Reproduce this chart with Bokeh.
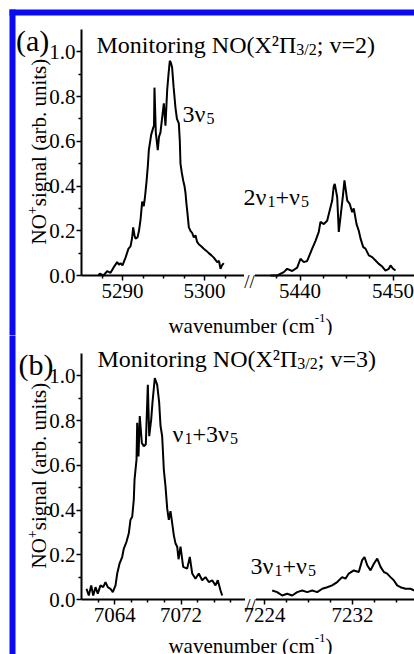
from bokeh.plotting import figure
from bokeh.models import (Range1d, FixedTicker, CustomJSTickFormatter, PrintfTickFormatter, Label,
                          BoxAnnotation)
from bokeh.layouts import column
from bokeh.embed import file_html
from bokeh.resources import INLINE

# ---------------- data ----------------
A_LEFT_X = [5287.07, 5287.23, 5287.68, 5288.13, 5288.54, 5288.90, 5289.35, 5289.57, 5289.76, 5290.00,
            5290.37, 5290.73, 5290.98, 5291.18, 5291.30, 5291.46, 5291.59, 5291.83, 5292.01, 5292.20,
            5292.40, 5292.60, 5292.74, 5292.93, 5293.09, 5293.21, 5293.50, 5293.74, 5293.84, 5293.90,
            5294.06, 5294.30, 5294.45, 5294.63, 5294.82, 5295.04, 5295.12, 5295.24, 5295.37, 5295.45,
            5295.61, 5295.77, 5295.91, 5296.05, 5296.24, 5296.46, 5296.64, 5296.87, 5296.99, 5297.07,
            5297.23, 5297.40, 5297.56, 5297.68, 5297.80, 5297.89, 5298.09, 5298.29, 5298.50, 5298.70,
            5298.90, 5299.10, 5299.30, 5299.63, 5299.91, 5300.24, 5300.52, 5300.85, 5301.13, 5301.34,
            5301.55, 5301.77, 5301.95, 5302.13, 5302.35]
A_LEFT_Y = [0.000, 0.008, 0.000, 0.020, 0.012, 0.035, 0.060, 0.048, 0.055, 0.045,
            0.080, 0.120, 0.130, 0.170, 0.215, 0.180, 0.165, 0.170, 0.200, 0.250,
            0.330, 0.310, 0.350, 0.420, 0.490, 0.560, 0.630, 0.660, 0.670, 0.840,
            0.640, 0.560, 0.620, 0.640, 0.700, 0.770, 0.730, 0.670, 0.770, 0.830,
            0.900, 0.960, 0.950, 0.930, 0.840, 0.750, 0.700, 0.680, 0.600, 0.500,
            0.460, 0.425, 0.400, 0.370, 0.320, 0.290, 0.215, 0.200, 0.190, 0.170,
            0.180, 0.150, 0.140, 0.130, 0.120, 0.110, 0.100, 0.090, 0.080, 0.070,
            0.060, 0.065, 0.030, 0.045, 0.055]

A_RIGHT_X = [5436.83, 5437.55, 5438.26, 5438.62, 5439.16, 5439.70, 5440.05, 5440.41, 5440.77, 5441.31,
             5441.67, 5442.02, 5442.20, 5442.56, 5442.92, 5443.10, 5443.46, 5443.63, 5443.74, 5444.00,
             5444.17, 5444.35, 5444.60, 5444.78, 5445.08, 5445.35, 5445.61, 5445.78, 5446.08, 5446.32,
             5446.51, 5446.80, 5447.04, 5447.40, 5447.76, 5448.12, 5448.47, 5448.84, 5449.19, 5449.55,
             5449.73, 5450.02, 5450.27]
A_RIGHT_Y = [0.000, 0.000, 0.015, 0.030, 0.020, 0.035, 0.075, 0.060, 0.065, 0.120,
             0.155, 0.195, 0.240, 0.230, 0.245, 0.275, 0.335, 0.400, 0.410, 0.350,
             0.195, 0.260, 0.350, 0.425, 0.335, 0.320, 0.283, 0.300, 0.230, 0.200,
             0.165, 0.127, 0.120, 0.090, 0.082, 0.067, 0.052, 0.040, 0.022, 0.030,
             0.045, 0.030, 0.022]

B_LEFT_X = [7060.60, 7060.88, 7061.17, 7061.41, 7061.69, 7061.96, 7062.29, 7062.61, 7062.89, 7063.17,
            7063.49, 7063.77, 7064.10, 7064.30, 7064.58, 7064.90, 7065.10, 7065.42, 7065.70, 7065.90,
            7066.11, 7066.30, 7066.39, 7066.63, 7066.71, 7066.87, 7067.02, 7067.27, 7067.51, 7067.75,
            7067.99, 7068.16, 7068.40, 7068.55, 7068.83, 7069.12, 7069.36, 7069.52, 7069.72, 7069.92,
            7070.12, 7070.33, 7070.52, 7070.72, 7070.93, 7071.12, 7071.33, 7071.53, 7071.69, 7071.93,
            7072.25, 7072.73, 7073.05, 7073.34, 7073.73, 7074.13, 7074.54, 7074.94, 7075.34, 7075.75,
            7076.14, 7076.42, 7076.75, 7076.95]
B_LEFT_Y = [0.048, 0.018, 0.063, 0.018, 0.055, 0.026, 0.063, 0.055, 0.078, 0.055,
            0.048, 0.033, 0.063, 0.116, 0.160, 0.190, 0.228, 0.258, 0.296, 0.356,
            0.370, 0.446, 0.536, 0.626, 0.790, 0.640, 0.820, 0.700, 0.685, 0.694,
            0.960, 0.730, 0.806, 0.880, 0.990, 0.960, 0.880, 0.776, 0.730, 0.580,
            0.506, 0.405, 0.356, 0.395, 0.340, 0.288, 0.250, 0.236, 0.180, 0.236,
            0.146, 0.138, 0.190, 0.116, 0.093, 0.116, 0.086, 0.100, 0.078, 0.086,
            0.063, 0.086, 0.040, 0.018]

B_RIGHT_X = [7224.70, 7225.15, 7225.61, 7226.06, 7226.52, 7226.97, 7227.43, 7227.88, 7228.34, 7228.79,
             7229.25, 7229.70, 7230.15, 7230.61, 7231.06, 7231.36, 7231.66, 7232.12, 7232.57, 7232.88,
             7233.09, 7233.34, 7233.64, 7233.94, 7234.25, 7234.55, 7234.85, 7235.15, 7235.45, 7235.75,
             7236.06, 7236.36, 7236.82, 7237.27, 7237.64]
B_RIGHT_Y = [0.040, 0.033, 0.018, 0.026, 0.018, 0.033, 0.040, 0.033, 0.040, 0.033,
             0.048, 0.055, 0.063, 0.078, 0.100, 0.093, 0.116, 0.130, 0.123, 0.176,
             0.190, 0.153, 0.130, 0.160, 0.183, 0.146, 0.123, 0.116, 0.100, 0.086,
             0.063, 0.055, 0.048, 0.048, 0.040]

A_LEFT_TICKS = [5290, 5300]
A_LEFT_MINOR = [5287.5, 5292.5, 5295, 5297.5, 5302.5]
A_RIGHT_TICKS = [5440, 5450]
A_RIGHT_MINOR = [5437.5, 5442.5, 5445, 5447.5]
B_LEFT_TICKS = [7064, 7072]
B_LEFT_MINOR = [7062, 7066, 7068, 7070, 7074, 7076, 7078]
B_RIGHT_TICKS = [7224, 7232]
B_RIGHT_MINOR = [7226, 7228, 7230, 7234, 7236]
Y_TICKS = [0.0, 0.2, 0.4, 0.6, 0.8, 1.0]
Y_MINOR = [0.1, 0.3, 0.5, 0.7, 0.9]

TITLE_A = ("Monitoring NO(X\u00b2\u03a0", "3/2", "; v=2)")
TITLE_B = ("Monitoring NO(X\u00b2\u03a0", "3/2", "; v=3)")
Y_LABEL = ("NO", "+", " signal (arb. units)")
X_LABEL = ("wavenumber (cm", "-1", ")")

# ---------------- styling / layout (page pixels) ----------------
FONT = "Liberation Serif"
BLUE = "#0a0af5"
PAGE_W = 414
AXIS_X = 81             # page x of the y axis
Y_PPU = 246 / 1.1       # pixels per signal unit
Y_TOP = 1.1
BAND = (9, 15)          # blue frame band (page px)

# Times / Liberation Serif advance widths (em)
W = {'M': .889, 'o': .5, 'n': .5, 'i': .278, 't': .278, 'r': .333, 'g': .5, ' ': .25, 'N': .722,
     'O': .722, '(': .333, ')': .333, 'X': .722, '\u00b2': .3, '\u03a0': .722, '/': .278, ';': .278,
     'v': .5, '=': .564, '+': .564, '\u03bd': .5, 's': .389, 'a': .444, 'l': .278, 'b': .5,
     '.': .25, 'u': .5, 'w': .722, 'e': .444, 'm': .778, 'c': .444, '-': .333}


def tw(s, size):
    return sum(W.get(c, .5) for c in s) * size


def put(p, conv, px, py, pieces, angle=0.0):
    for text, size, rise in pieces:
        if angle == 0.0:
            x, y = conv(px, py - rise)
            px += tw(text, size)
        else:
            x, y = conv(px - rise, py)
            py -= tw(text, size)
        p.add_layout(Label(x=x, y=y, text=text, text_font=FONT, text_font_size=f"{size}px",
                           text_color="black", text_align="left", text_baseline="alphabetic",
                           angle=angle))


def panel(page_top, page_bottom, zero_px, l_lo, l_ppu, r_lo, r_px, r_ppu, gap_px,
          lx, ly, rx, ry, lt, lm, rt, rm, title, title_xy, tag, tag_xy, peaks, xlab_y, top_band,
          border_color):
    x0 = l_lo - AXIS_X / l_ppu
    x1 = l_lo + (PAGE_W - AXIS_X) / l_ppu
    r0 = r_lo - r_px / r_ppu
    r1 = r_lo + (PAGE_W - r_px) / r_ppu
    y0 = -(page_bottom - zero_px) / Y_PPU
    y1 = (zero_px - page_top) / Y_PPU

    p = figure(width=PAGE_W, height=page_bottom - page_top, toolbar_location=None, title=None,
               output_backend="svg", x_range=Range1d(x0, x1), y_range=Range1d(y0, y1),
               min_border=0, min_border_left=0, min_border_right=0, min_border_top=0,
               min_border_bottom=0,
               outline_line_color=None, background_fill_color="white", border_fill_color=border_color)
    p.extra_x_ranges = {"seg2": Range1d(r0, r1)}
    p.grid.visible = False

    def u(v):
        return x0 + (v - r0) * (x1 - x0) / (r1 - r0)

    def cx(px):
        return l_lo + (px - AXIS_X) / l_ppu

    def cy(py):
        return (zero_px - py) / Y_PPU

    def conv(px, py):
        return cx(px), cy(py)

    band_top = BAND[0] if top_band else page_top - 20
    p.add_layout(BoxAnnotation(left=cx(BAND[0]), right=cx(BAND[1]), top=cy(band_top),
                               bottom=cy(page_bottom + 20), fill_color=BLUE, fill_alpha=1.0,
                               line_color=None))
    if top_band:
        p.add_layout(BoxAnnotation(left=cx(BAND[0]), right=cx(PAGE_W + 20), top=cy(BAND[0]),
                                   bottom=cy(BAND[1]), fill_color=BLUE, fill_alpha=1.0,
                                   line_color=None))

    xa = p.xaxis[0]
    xa.fixed_location = 0
    xa.bounds = (l_lo, x1)
    xa.ticker = FixedTicker(ticks=list(lt) + [u(v) for v in rt],
                            minor_ticks=list(lm) + [u(v) for v in rm])
    split = cx(gap_px)
    xa.formatter = CustomJSTickFormatter(
        args=dict(split=split, l0=x0, l1=x1, r0=r0, r1=r1),
        code="let v = tick; if (tick > split) { v = r0 + (tick - l0) * (r1 - r0) / (l1 - l0); }"
             " return Math.round(v).toString();")
    ya = p.yaxis[0]
    ya.fixed_location = l_lo
    ya.bounds = (0, Y_TOP)
    ya.ticker = FixedTicker(ticks=Y_TICKS, minor_ticks=Y_MINOR)
    ya.formatter = PrintfTickFormatter(format="%.1f")
    for ax in (xa, ya):
        ax.axis_line_width = 2
        ax.axis_line_color = "black"
        ax.major_tick_line_width = 1.5
        ax.minor_tick_line_width = 1.5
        ax.major_tick_in = 0
        ax.minor_tick_in = 0
        ax.major_tick_out = 5
        ax.minor_tick_out = 3
        ax.major_label_text_font = FONT
        ax.major_label_text_font_size = "21px"
        ax.major_label_text_color = "black"
    xa.major_label_standoff = 3
    ya.major_label_standoff = 1

    p.line(lx, ly, line_color="black", line_width=2)
    p.line(rx, ry, line_color="black", line_width=2, x_range_name="seg2")

    p.add_layout(BoxAnnotation(left=cx(gap_px - 5.5), right=cx(gap_px + 5.5), top=cy(zero_px - 3),
                               bottom=cy(zero_px + 3), fill_color="white", fill_alpha=1.0,
                               line_color=None))
    bx, by = conv(gap_px, zero_px + 6)
    p.add_layout(Label(x=bx, y=by, text="//", text_font=FONT, text_font_size="19px",
                       text_color="black", text_align="center", text_baseline="alphabetic"))

    put(p, conv, tag_xy[0], tag_xy[1], [(tag, 30, 0)])
    put(p, conv, title_xy[0], title_xy[1], [(title[0], 24, 0), (title[1], 16, -5), (title[2], 24, 0)])
    for (px, py, pieces) in peaks:
        put(p, conv, px, py, pieces)
    put(p, conv, 38, zero_px - 31,
        [(Y_LABEL[0], 21, 0), (Y_LABEL[1], 14, 7), (Y_LABEL[2], 21, 0)], angle=1.5707963)
    xl = [(X_LABEL[0], 21, 0), (X_LABEL[1], 13, 8), (X_LABEL[2], 21, 0)]
    total = sum(tw(t, s) for t, s, _ in xl)
    put(p, conv, 250 - total / 2, xlab_y, xl)
    return p


NU = "\u03bd"
SPLIT = 335
pa = panel(0, SPLIT, 275, 5285, 8.2, 5435, 253, 9.3, 249,
           A_LEFT_X, A_LEFT_Y, A_RIGHT_X, A_RIGHT_Y,
           A_LEFT_TICKS, A_LEFT_MINOR, A_RIGHT_TICKS, A_RIGHT_MINOR,
           TITLE_A, (96, 44), "(a)", (15.5, 40),
           [(182, 113, [("3" + NU, 24, 0), ("5", 16, -5)]),
            (243, 196, [("2" + NU, 24, 0), ("1", 16, -5), ("+" + NU, 24, 0), ("5", 16, -5)])],
           325, True, "#ff0000")
pb = panel(SPLIT, 654, 599, 7060, 8.3, 7223, 253, 11.0, 250,
           B_LEFT_X, B_LEFT_Y, B_RIGHT_X, B_RIGHT_Y,
           B_LEFT_TICKS, B_LEFT_MINOR, B_RIGHT_TICKS, B_RIGHT_MINOR,
           TITLE_B, (97, 358), "(b)", (18, 364),
           [(172, 433, [(NU, 24, 0), ("1", 16, -5), ("+3" + NU, 24, 0), ("5", 16, -5)]),
            (250, 565, [("3" + NU, 24, 0), ("1", 16, -5), ("+" + NU, 24, 0), ("5", 16, -5)])],
           645, False, "#00c000")

layout = column(pa, pb)
open("out.html", "w").write(file_html(layout, INLINE))
